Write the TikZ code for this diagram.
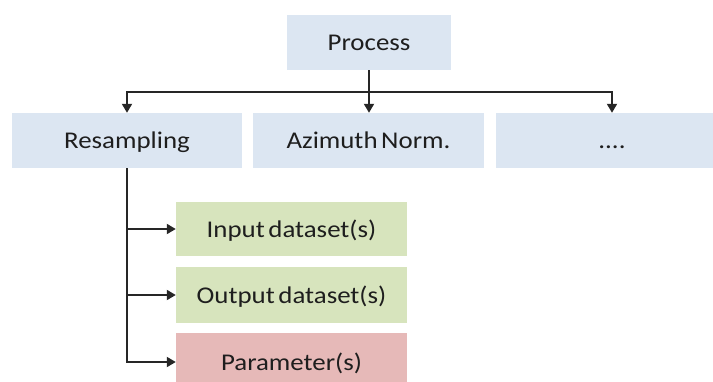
\documentclass[tikz,border=0pt]{standalone}
\usepackage{fontspec}
\setmainfont{Carlito}[FakeStretch=1.12, WordSpace=0.6]
\usetikzlibrary{arrows.meta}
\definecolor{boxblue}{HTML}{DCE6F2}
\definecolor{boxgreen}{HTML}{D7E4BD}
\definecolor{boxred}{HTML}{E6B9B8}
\definecolor{txt}{HTML}{1E1E1E}
\tikzset{
  box/.style={rectangle, inner sep=0pt, text=txt, font=\fontsize{24}{28}\selectfont,
    text height=21pt, text depth=5pt},
  bluebox/.style={box, fill=boxblue, minimum height=55pt},
  greenbox/.style={box, fill=boxgreen, minimum width=231pt},
  redbox/.style={box, fill=boxred, minimum width=231pt},
  conn/.style={line width=1.8pt, draw=black!85},
  arr/.style={conn, -{Triangle[length=9pt,width=10pt]}}
}
\begin{document}
\begin{tikzpicture}[x=1pt,y=-1pt]
\useasboundingbox (0,0) rectangle (713,381);
\clip (0,0) rectangle (713,381);
\node[bluebox, minimum width=164pt] (proc) at (369,42.5) {Process};
\node[bluebox, minimum width=230pt] (res) at (127,140.5) {Resampling};
\node[bluebox, minimum width=231pt] (az) at (368.5,140.5) {Azimuth Norm.};
\node[bluebox, minimum width=232pt] (dots) at (612,140.5) {....};
\node[greenbox, minimum height=54pt] (in) at (291.5,229) {Input dataset(s)};
\node[greenbox, minimum height=56pt] (out) at (291.5,295) {Output dataset(s)};
\node[redbox, minimum height=58pt] (par) at (291.5,362) {Parameter(s)};
\coordinate (j) at (369,92);
\draw[conn] (proc.south) -- (j);
\draw[arr] (j) -| (res.north);
\draw[arr] (j) -- (j |- az.north);
\draw[arr] (j) -| (dots.north);
\draw[arr] (res.south) |- (in.west);
\draw[arr] (res.south) |- (out.west);
\draw[arr] (res.south) |- (par.west);
\end{tikzpicture}
\end{document}
